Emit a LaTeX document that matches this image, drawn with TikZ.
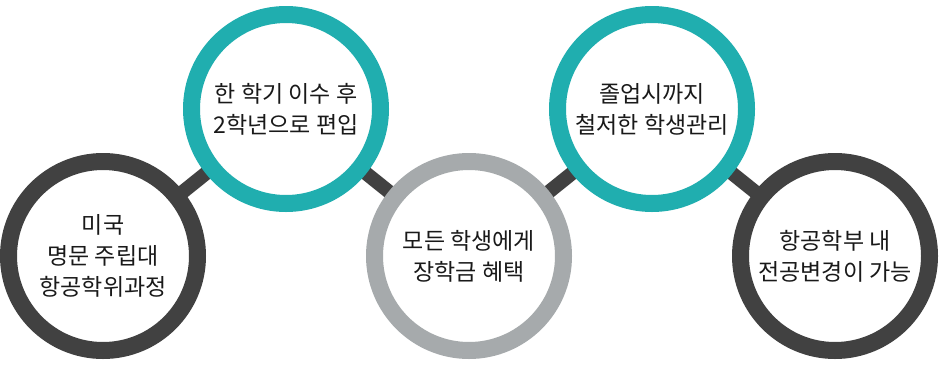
\documentclass[tikz,border=0pt]{standalone}
\usepackage{fontspec}
\usepackage{xcolor}
\usetikzlibrary{backgrounds}
\newfontfamily\kr{Noto Sans CJK KR}
\definecolor{ringdark}{HTML}{414141}
\definecolor{ringteal}{HTML}{20AEAF}
\definecolor{ringgray}{HTML}{A6AAAC}

\begin{document}
\begin{tikzpicture}[x=1pt, y=-1pt,
    ring/.style={circle, draw=#1, line width=17pt, fill=white, minimum size=189pt,
        inner sep=0pt, outer sep=0pt, align=center,
        font=\kr\fontsize{23}{31}\selectfont, text=black!90},
    link/.style={ringdark, line width=14pt}]
    \useasboundingbox (0,0) rectangle (939,381);

    % Circles, bottom row and top row
    \node[ring=ringdark] (c1) at (103,256) {미국\\명문 주립대\\항공학위과정};
    \node[ring=ringteal] (c2) at (286,109) {한 학기 이수 후\\2학년으로 편입};
    \node[ring=ringgray] (c3) at (469,256) {모든 학생에게\\장학금 혜택};
    \node[ring=ringteal] (c4) at (652,109) {졸업시까지\\철저한 학생관리};
    \node[ring=ringdark] (c5) at (835,256) {항공학부 내\\전공변경이 가능};

    % Links between circles
    \begin{scope}[on background layer]
        \foreach \a/\b in {c1/c2, c2/c3, c3/c4, c4/c5} {
            \draw[link] (\a) -- (\b);
        }
    \end{scope}
\end{tikzpicture}
\end{document}
